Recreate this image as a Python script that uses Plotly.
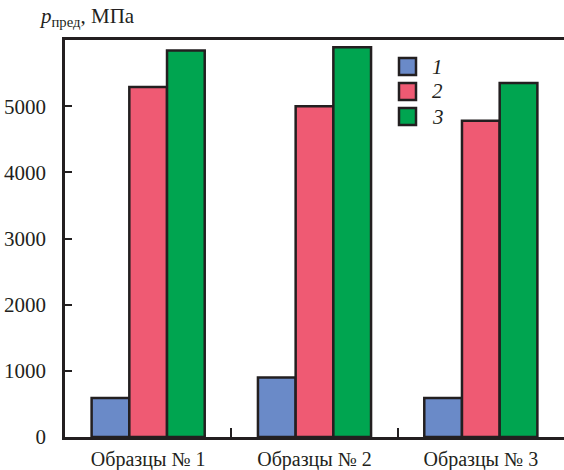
import plotly.graph_objects as go

categories = ["Образцы № 1", "Образцы № 2", "Образцы № 3"]
series_names = ["1", "2", "3"]
series1 = [590, 900, 590]
series2 = [5290, 5000, 4780]
series3 = [5840, 5890, 5350]
y_ticks = [0, 1000, 2000, 3000, 4000, 5000]

colors = ["#6a8ac8", "#ef5a73", "#00a550"]
edge = "#231f20"
font = "Liberation Serif"

fig = go.Figure()
for name, vals, c in zip(series_names, [series1, series2, series3], colors):
    fig.add_trace(go.Bar(x=categories, y=vals, name=name,
                         marker=dict(color=c, line=dict(color=edge, width=2.5)),
                         showlegend=False))

W, H = 564, 470
ml, mr, mt, mb = 65, 0, 40, 33
pw, ph = W - ml - mr, H - mt - mb

def px(x):
    return (x - ml) / pw

def py(y):
    return (H - mb - y) / ph

# manual legend
for i, (name, c) in enumerate(zip(series_names, colors)):
    y0 = 58 + 25 * i
    fig.add_shape(type="rect", xref="paper", yref="paper",
                  x0=px(399), x1=px(416), y0=py(y0 + 17), y1=py(y0),
                  fillcolor=c, line=dict(color=edge, width=2.5))
    fig.add_annotation(xref="paper", yref="paper", x=px(430), y=py(y0 + 8.5),
                       text=f"<i>{name}</i>", showarrow=False, xanchor="left",
                       yanchor="middle", font=dict(family=font, size=21, color=edge))

fig.add_annotation(xref="paper", yref="paper", x=px(37), y=py(32),
                   text="<i>p</i><sub>пред</sub>, МПа", showarrow=False,
                   xanchor="left", yanchor="bottom",
                   font=dict(family=font, size=21, color=edge))

fig.update_layout(
    width=W, height=H,
    margin=dict(l=ml, r=mr, t=mt, b=mb),
    paper_bgcolor="white", plot_bgcolor="white",
    barmode="group", bargap=0.32, bargroupgap=0,
    font=dict(family=font, size=21, color=edge),
    xaxis=dict(type="category", tickson="boundaries", ticks="inside", ticklen=9,
               tickwidth=2, tickcolor=edge, showline=True, linecolor=edge,
               linewidth=2.5, mirror=True, showgrid=False, automargin=False,
               ticklabelstandoff=2, tickfont=dict(size=20)),
    yaxis=dict(range=[0, 6000], tickvals=y_ticks, ticks="inside", ticklen=7,
               tickwidth=2, tickcolor=edge, showline=True, linecolor=edge,
               linewidth=2.5, showgrid=False, zeroline=False, automargin=False,
               ticklabelstandoff=12),
)

fig.write_html("out.html", config={"displayModeBar": False},
               post_script="document.body.style.margin='0';")
